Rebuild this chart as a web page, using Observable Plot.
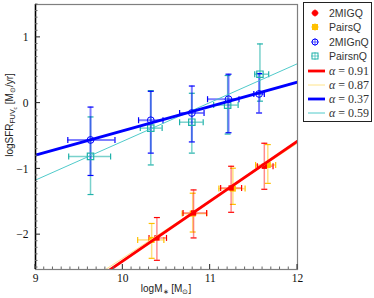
<!DOCTYPE html>
<html>
<head>
<meta charset="utf-8">
<script src="https://cdn.jsdelivr.net/npm/d3@7"></script>
<script src="https://cdn.jsdelivr.net/npm/@observablehq/plot@0.6"></script>
<style>
  html, body { margin: 0; padding: 0; background: white; }
  #chart { width: 374px; height: 298px; }
</style>
</head>
<body>
<div id="chart"></div>
<script>
// ---- Data ----
// 2MIGQ (red filled squares)
const migqX   = [10.39, 10.81, 11.24, 11.62];
const migqY   = [-2.05, -1.67, -1.29, -0.96];
const migqXlo = [10.30, 10.69, 11.12, 11.54];
const migqXhi = [10.50, 10.96, 11.36, 11.72];
const migqYlo = [-2.39, -2.05, -1.66, -1.31];
const migqYhi = [-1.74, -1.32, -0.96, -0.61];

// PairsQ (gold filled squares)
const pairsqX   = [10.33, 10.80, 11.26, 11.66];
const pairsqY   = [-2.08, -1.68, -1.30, -0.94];
const pairsqXlo = [10.17, 10.68, 11.10, 11.52];
const pairsqXhi = [10.47, 10.96, 11.40, 11.75];
const pairsqYlo = [-2.36, -1.96, -1.54, -1.22];
const pairsqYhi = [-1.83, -1.37, -0.99, -0.63];

// 2MIGnQ (blue open circles)
const mignqX   = [9.63, 10.32, 10.79, 11.21, 11.56];
const mignqY   = [-0.56, -0.26, -0.15, 0.06, 0.14];
const mignqXlo = [9.37, 10.18, 10.65, 10.97, 11.50];
const mignqXhi = [9.91, 10.46, 10.93, 11.33, 11.62];
const mignqYlo = [-1.10, -0.76, -0.59, -0.45, -0.15];
const mignqYhi = [-0.06, 0.18, 0.26, 0.44, 0.45];

// PairsnQ (teal open squares)
const pairsnqX   = [9.63, 10.32, 10.79, 11.20, 11.57];
const pairsnqY   = [-0.81, -0.38, -0.29, -0.03, 0.44];
const pairsnqXlo = [9.38, 10.20, 10.65, 11.04, 11.51];
const pairsnqXhi = [9.86, 10.45, 10.92, 11.32, 11.67];
const pairsnqYlo = [-1.39, -0.94, -0.76, -0.47, 0.03];
const pairsnqYhi = [-0.21, 0.19, 0.15, 0.42, 0.90];

// Fitted lines (value at x = 9 and x = 12)
const fitLabels = ["α = 0.91", "α = 0.87", "α = 0.37", "α = 0.59"];
const fitXs     = [9, 12];
const fitYStart = [-3.31, -3.23, -0.79, -1.17];
const fitYEnd   = [-0.58, -0.61, 0.32, 0.60];

const seriesNames = ["2MIGQ", "PairsQ", "2MIGnQ", "PairsnQ"];
const xTicks = [9, 10, 11, 12];
const yTicks = [-2, -1, 0, 1];

// ---- Build tables ----
function rows(xs, ys, xlo, xhi, ylo, yhi) {
  return xs.map((x, i) => ({x, y: ys[i], xlo: xlo[i], xhi: xhi[i], ylo: ylo[i], yhi: yhi[i]}));
}
const migq = rows(migqX, migqY, migqXlo, migqXhi, migqYlo, migqYhi);
const pairsq = rows(pairsqX, pairsqY, pairsqXlo, pairsqXhi, pairsqYlo, pairsqYhi);
const mignq = rows(mignqX, mignqY, mignqXlo, mignqXhi, mignqYlo, mignqYhi);
const pairsnq = rows(pairsnqX, pairsnqY, pairsnqXlo, pairsnqXhi, pairsnqYlo, pairsnqYhi);

const fits = fitLabels.map((label, i) => fitXs.map((x, j) => ({label, x, y: j === 0 ? fitYStart[i] : fitYEnd[i]})));

const RED = "#ff0000", GOLD = "#ffc000", BLUE = "#0000ff", TEAL = "#20b2aa";
const fitColors = [RED, "#ffe48a", BLUE, "#3cc4c4"];
const fitWidths = [2.8, 1, 2.8, 0.9];

const hbar = {draw(ctx, size) { const r = Math.sqrt(size / Math.PI); ctx.moveTo(-r, 0); ctx.lineTo(r, 0); }};
const vbar = {draw(ctx, size) { const r = Math.sqrt(size / Math.PI); ctx.moveTo(0, -r); ctx.lineTo(0, r); }};

function errorMarks(data, color, opacity, width) {
  return [
    Plot.ruleX(data, {x: "x", y1: "ylo", y2: "yhi", stroke: color, strokeOpacity: opacity, strokeWidth: width}),
    Plot.ruleY(data, {y: "y", x1: "xlo", x2: "xhi", stroke: color, strokeOpacity: opacity, strokeWidth: width}),
    Plot.dot(data, {x: "x", y: "ylo", symbol: hbar, r: 3, stroke: color, strokeWidth: 1.2}),
    Plot.dot(data, {x: "x", y: "yhi", symbol: hbar, r: 3, stroke: color, strokeWidth: 1.2}),
    Plot.dot(data, {x: "xlo", y: "y", symbol: vbar, r: 3, stroke: color, strokeWidth: 1.2}),
    Plot.dot(data, {x: "xhi", y: "y", symbol: vbar, r: 3, stroke: color, strokeWidth: 1.2})
  ];
}

const serif = "'Liberation Serif', 'DejaVu Serif', serif";
const sans = "'Liberation Sans', Arial, sans-serif";

const plot = Plot.plot({
  width: 374,
  height: 298,
  marginLeft: 35,
  marginRight: 77,
  marginTop: 4,
  marginBottom: 29,
  x: {domain: [9, 12]},
  y: {domain: [-2.53, 1.5]},
  style: {background: "white", overflow: "visible"},
  marks: [
    ...errorMarks(pairsnq, TEAL, 0.6, 1.5),
    ...errorMarks(mignq, BLUE, 0.5, 2),
    ...errorMarks(pairsq, GOLD, 0.5, 1.5),
    ...errorMarks(migq, RED, 0.45, 1.5),
    Plot.dot(pairsnq, {x: "x", y: "y", symbol: "square", r: 3.6, stroke: TEAL, strokeWidth: 1.2, fill: "none"}),
    Plot.dot(mignq, {x: "x", y: "y", symbol: "circle", r: 3.4, stroke: BLUE, strokeWidth: 1, fill: "none"}),
    Plot.dot(pairsq, {x: "x", y: "y", symbol: "square", r: 3.4, fill: GOLD}),
    Plot.dot(migq, {x: "x", y: "y", symbol: "square", r: 3, fill: RED}),
    Plot.line(fits[3], {x: "x", y: "y", stroke: fitColors[3], strokeWidth: fitWidths[3], clip: true}),
    Plot.line(fits[2], {x: "x", y: "y", stroke: fitColors[2], strokeWidth: fitWidths[2], clip: true}),
    Plot.line(fits[1], {x: "x", y: "y", stroke: fitColors[1], strokeWidth: fitWidths[1], clip: true}),
    Plot.line(fits[0], {x: "x", y: "y", stroke: fitColors[0], strokeWidth: fitWidths[0], clip: true}),
    Plot.frame({stroke: "#7f7f7f", strokeWidth: 1.2}),
    Plot.ruleX([9], {stroke: "#000", strokeWidth: 1.5}),
    // tick labels
    Plot.axisX({ticks: xTicks, tickSize: 0, tickPadding: 4, tickFormat: d3.format("d"), fontSize: 11.5, fontFamily: serif, fill: "#111", label: null}),
    Plot.axisY({ticks: yTicks, tickSize: 0, tickPadding: 7, tickFormat: d3.format("d"), fontSize: 11.5, fontFamily: serif, fill: "#111", label: null})
  ]
});

document.getElementById("chart").appendChild(plot);

const svg = d3.select(plot);
const sx = plot.scale("x"), sy = plot.scale("y");
const [px0, px1] = sx.range, [py0, py1] = sy.range; // py0 = bottom, py1 = top

// ---- Inward tick marks (minor every 0.1, major at labels) ----
const tg = svg.append("g").attr("stroke-width", 1);
d3.range(90, 121).forEach(k => {
  const v = k / 10, major = k % 10 === 0, x = sx.apply(v);
  const len = major ? 5 : 2.5;
  tg.append("line").attr("x1", x).attr("x2", x).attr("y1", py0).attr("y2", py0 - len).attr("stroke", major ? "#222" : "#666");
});
d3.range(-25, 16).forEach(k => {
  const v = k / 10, major = k % 10 === 0, y = sy.apply(v);
  const len = major ? 5 : 2.5;
  tg.append("line").attr("x1", px0).attr("x2", px0 + len).attr("y1", y).attr("y2", y).attr("stroke", major ? "#222" : "#666");
});

// ---- Axis titles ----
const xt = svg.append("text")
  .attr("x", 166).attr("y", 292)
  .attr("text-anchor", "middle")
  .attr("font-family", sans).attr("font-size", 10).attr("fill", "#222");
xt.append("tspan").text("logM");
xt.append("tspan").attr("font-size", 7).attr("dy", 2).text("∗");
xt.append("tspan").attr("dy", -2).text(" [M");
xt.append("tspan").attr("font-size", 7).attr("dy", 2).text("⊙");
xt.append("tspan").attr("dy", -2).text("]");

const yt = svg.append("text")
  .attr("transform", "translate(13,115) rotate(-90)")
  .attr("text-anchor", "middle")
  .attr("font-family", sans).attr("font-size", 10).attr("fill", "#222");
yt.append("tspan").text("logSFR");
yt.append("tspan").attr("font-size", 7).attr("dy", 2).text("FUV");
yt.append("tspan").attr("font-size", 5).attr("dy", 1.5).text("c");
yt.append("tspan").attr("dy", -3.5).text(" [M");
yt.append("tspan").attr("font-size", 7).attr("dy", 2).text("⊙");
yt.append("tspan").attr("dy", -2).text("/yr]");

// ---- Legend ----
const lg = svg.append("g");
lg.append("rect").attr("x", 303.5).attr("y", 2.5).attr("width", 68).attr("height", 119)
  .attr("fill", "white").attr("stroke", "#222").attr("stroke-width", 1);

const markerColors = [RED, GOLD, BLUE, TEAL];
const rowY = [13, 27, 42, 56, 71, 85, 99, 113];
seriesNames.forEach((name, i) => {
  const cy = rowY[i], cx = 315, c = markerColors[i];
  const g = lg.append("g");
  g.append("line").attr("x1", cx - 4).attr("x2", cx + 4).attr("y1", cy).attr("y2", cy).attr("stroke", c).attr("stroke-opacity", 0.6);
  g.append("line").attr("x1", cx).attr("x2", cx).attr("y1", cy - 4).attr("y2", cy + 4).attr("stroke", c).attr("stroke-opacity", 0.6);
  if (i === 0) g.append("circle").attr("cx", cx).attr("cy", cy).attr("r", 3).attr("fill", c);
  if (i === 1) g.append("rect").attr("x", cx - 3).attr("y", cy - 3).attr("width", 6).attr("height", 6).attr("fill", c);
  if (i === 2) g.append("circle").attr("cx", cx).attr("cy", cy).attr("r", 3).attr("fill", "none").attr("stroke", c);
  if (i === 3) g.append("rect").attr("x", cx - 3).attr("y", cy - 3).attr("width", 6).attr("height", 6).attr("fill", "none").attr("stroke", c);
  lg.append("text").attr("x", 329).attr("y", cy + 3.5).attr("text-anchor", "start")
    .attr("font-family", sans).attr("font-size", 10.5).attr("fill", "#333").text(name);
});
fitLabels.forEach((label, i) => {
  const cy = rowY[4 + i];
  lg.append("line").attr("x1", 308).attr("x2", 325).attr("y1", cy).attr("y2", cy)
    .attr("stroke", fitColors[i]).attr("stroke-width", fitWidths[i]);
  const t = lg.append("text").attr("x", 329).attr("y", cy + 4).attr("text-anchor", "start")
    .attr("font-family", serif).attr("font-size", 12).attr("fill", "#333");
  t.append("tspan").attr("font-style", "italic").text(label.slice(0, 1));
  t.append("tspan").text(label.slice(1));
});
</script>
</body>
</html>
